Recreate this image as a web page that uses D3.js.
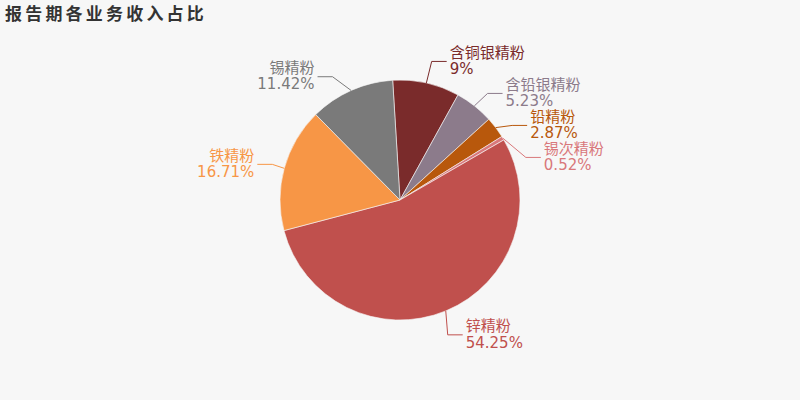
<!DOCTYPE html>
<html>
<head>
<meta charset="utf-8">
<script src="https://cdn.jsdelivr.net/npm/d3@7"></script>
<style>
  html, body { margin: 0; padding: 0; background: #f7f7f7; }
  svg { display: block; }
</style>
</head>
<body>
<svg id="chart" width="800" height="400"></svg>
<script>
const categories = ["含铜银精粉", "含铅银精粉", "铅精粉", "锡次精粉", "锌精粉", "铁精粉", "锡精粉"];
const values = [9, 5.23, 2.87, 0.52, 54.25, 16.71, 11.42];
const valueLabels = ["9%", "5.23%", "2.87%", "0.52%", "54.25%", "16.71%", "11.42%"];
const colors = ["#7a2b2b", "#8c7b8b", "#b8580c", "#d9787b", "#c0504d", "#f79646", "#7a7a7a"];
const title = "报告期各业务收入占比";

const W = 800, H = 400;
const cx = 400, cy = 200, R = 120;
const len1 = 15, len2 = 15, textDist = 5, lineGap = 3, labelH = 32;
const startOffset = -3.5 * Math.PI / 180;
const fontFamily = "'DejaVu Sans', 'Noto Sans CJK SC', sans-serif";

const svg = d3.select("#chart");
svg.append("rect").attr("width", W).attr("height", H).attr("fill", "#f7f7f7");

svg.append("text")
  .attr("x", 5).attr("y", 20)
  .attr("font-family", "'Noto Sans CJK SC', sans-serif")
  .attr("font-size", 17).attr("font-weight", "bold")
  .attr("letter-spacing", 3.2)
  .attr("fill", "#333")
  .text(title);

const data = categories.map((c, i) => ({ name: c, value: values[i], label: valueLabels[i], color: colors[i] }));

const pie = d3.pie().sort(null).value(d => d.value)
  .startAngle(startOffset).endAngle(startOffset + 2 * Math.PI);
const arcs = pie(data);
const arc = d3.arc().innerRadius(0).outerRadius(R);

const g = svg.append("g");
g.selectAll("path.slice").data(arcs).join("path")
  .attr("class", "slice")
  .attr("transform", `translate(${cx},${cy})`)
  .attr("d", arc)
  .attr("fill", d => d.data.color)
  .attr("stroke", "#f7f7f7")
  .attr("stroke-width", 0.6);

// ---- label layout (outer labels with overlap avoidance) ----
const items = arcs.map(a => {
  const mid = (a.startAngle + a.endAngle) / 2;
  const s = Math.sin(mid), c = -Math.cos(mid);
  const dir = s < 0 ? -1 : 1;
  const x1 = cx + s * R, y1 = cy + c * R;
  const x2 = cx + s * (R + len1), y2 = cy + c * (R + len1);
  const x3 = x2 + dir * len2;
  return {
    a, dir, x1, y1, x2, x3,
    x: x3 + dir * textDist, y: y2, height: labelH
  };
});

function adjustSide(list, dir) {
  list.sort((p, q) => p.y - q.y);
  const top = 0, bottom = H;
  function shiftUp(end, delta) {
    for (let j = end; j >= 0; j--) {
      if (list[j].y - delta < top) break;
      list[j].y -= delta;
      if (j > 0 && list[j].y > list[j - 1].y + list[j - 1].height) break;
    }
  }
  function shiftDown(start, end, delta) {
    for (let j = start; j < end; j++) {
      if (list[j].y + delta > bottom) break;
      list[j].y += delta;
      if (j > start && j + 1 < end && list[j + 1].y > list[j].y + list[j].height) {
        shiftUp(j, delta / 2);
        return;
      }
    }
    shiftUp(end - 1, delta / 2);
  }
  let lastY = 0;
  const n = list.length;
  for (let i = 0; i < n; i++) {
    const delta = list[i].y - lastY;
    if (delta < 0) shiftDown(i, n, -delta);
    lastY = list[i].y + list[i].height;
  }
  if (bottom - lastY < 0) shiftUp(n - 1, lastY - bottom);
  const up = list.filter(d => d.y < cy), down = list.filter(d => d.y >= cy);
  function changeX(sub, isDown) {
    let last = isDown ? Number.MAX_VALUE : 0;
    sub.forEach(d => {
      const dy = Math.abs(d.y - cy);
      let dx = dy < R + len1
        ? Math.sqrt((R + len1 + len2) ** 2 - dy * dy)
        : Math.abs(d.x - cx);
      if (isDown && dx >= last) dx = last - 10;
      if (!isDown && dx <= last) dx = last + 10;
      d.x = cx + dx * dir;
      last = dx;
    });
  }
  changeX(up, false);
  changeX(down, true);
}
adjustSide(items.filter(d => d.x >= cx), 1);
adjustSide(items.filter(d => d.x < cx), -1);

items.forEach(d => {
  const dist = d.x2 - d.x3;
  d.x3 = d.x - d.dir * lineGap;
  d.x2 = d.x3 + dist;
});

const lg = svg.append("g");
items.forEach(d => {
  const col = d.a.data.color;
  lg.append("polyline")
    .attr("points", [[d.x1, d.y1], [d.x2, d.y], [d.x3, d.y]].map(p => p.join(",")).join(" "))
    .attr("fill", "none")
    .attr("stroke", col)
    .attr("stroke-width", 1);
  const anchor = d.dir > 0 ? "start" : "end";
  lg.append("text")
    .attr("x", d.x).attr("y", d.y - 9)
    .attr("dy", "0.35em")
    .attr("text-anchor", anchor)
    .attr("font-family", fontFamily)
    .attr("font-size", 15)
    .attr("fill", col)
    .text(d.a.data.name);
  lg.append("text")
    .attr("x", d.x).attr("y", d.y + 7.5)
    .attr("dy", "0.35em")
    .attr("text-anchor", anchor)
    .attr("font-family", fontFamily)
    .attr("font-size", 15)
    .attr("fill", col)
    .text(d.a.data.label);
});
</script>
</body>
</html>
